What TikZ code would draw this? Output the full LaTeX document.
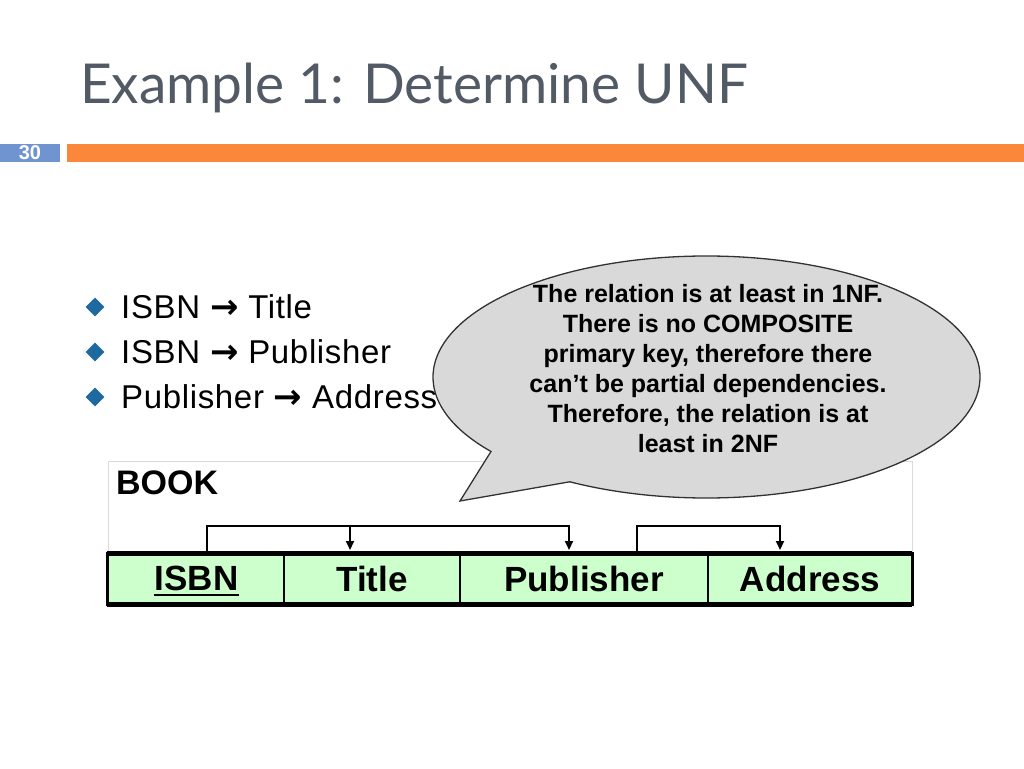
\documentclass[tikz,border=0pt]{standalone}
\usepackage{fontspec}
\setmainfont{Liberation Sans}
\newfontfamily\titlefont{Lato}
\newfontfamily\symfont{DejaVu Sans}
\newfontfamily\bulletfont[LetterSpace=2]{Liberation Sans}
\usetikzlibrary{arrows.meta,calc,shapes.geometric}
\definecolor{titlegray}{RGB}{82,90,102}
\definecolor{barblue}{RGB}{112,148,208}
\definecolor{barorange}{RGB}{250,135,58}
\definecolor{bulletblue}{RGB}{30,105,160}
\definecolor{cellgreen}{RGB}{204,255,204}
\definecolor{calloutgray}{RGB}{217,217,217}
\definecolor{calloutline}{RGB}{50,50,50}
\tikzset{
  bar/.style={inner sep=0pt, outer sep=0pt, anchor=north west, minimum height=18pt},
  bulletmark/.style={diamond, fill=bulletblue, inner sep=0pt, minimum size=19pt},
  bullettext/.style={anchor=base west, inner sep=0pt, font=\bulletfont\fontsize{33}{36}\selectfont},
  cell/.style={draw, line width=2pt, fill=cellgreen, minimum height=51pt, inner sep=0pt,
    outer sep=0pt, anchor=north west, font=\bfseries\fontsize{35}{38}\selectfont},
  dep/.style={line width=2pt, line join=miter},
  deptip/.style={-{Triangle[length=9pt,width=8pt]}},
  callout/.style={fill=calloutgray, draw=calloutline, line width=1.3pt, line join=miter}
}
\newcommand{\fdarrow}{{\symfont\bfseries\fontsize{34}{36}\selectfont →}}
\begin{document}
\begin{tikzpicture}[x=1pt,y=-1pt]
\useasboundingbox (0,0) rectangle (1024,768);
% title
\node[anchor=base west, inner sep=0pt, text=titlegray,
  font=\titlefont\fontsize{55}{60}\selectfont] (title) at (80,103) {Example 1: Determine UNF};
% bars
\node[bar, fill=barblue, minimum width=60pt, text=white,
  font=\bfseries\fontsize{20}{20}\selectfont] (pagenum) at (0,144) {30};
\node[bar, fill=barorange, minimum width=957pt] (rule) at (67,144) {};
% bullets
\node[bulletmark] (m1) at (95,307) {};
\node[bulletmark] (m2) at (95,352) {};
\node[bulletmark] (m3) at (95,397) {};
\node[bullettext] (f1) at (121,318) {ISBN \fdarrow{} Title};
\node[bullettext] (f2) at (121,363) {ISBN \fdarrow{} Publisher};
\node[bullettext] (f3) at (121,408) {Publisher \fdarrow{} Address};
% container
\node[draw=black!15, line width=1pt, minimum width=804pt, minimum height=92pt,
  anchor=north west, inner sep=0pt, outer sep=0pt] (book) at (108,461) {};
\node[anchor=base west, inner sep=0pt, font=\bfseries\fontsize{34}{36}\selectfont] (booklbl) at (116,494) {BOOK};
% table
\node[cell, minimum width=177pt] (c1) at (107,553) {};
\node[cell, minimum width=176pt] (c2) at (284,553) {Title};
\node[cell, minimum width=248pt] (c3) at (460,553) {Publisher};
\node[cell, minimum width=204pt] (c4) at (708,553) {Address};
\node[inner sep=0pt, font=\bfseries\fontsize{35}{38}\selectfont] (isbn) at ($(c1.center)+(1,0)$) {ISBN};
\draw[line width=2pt] ($(isbn.south west)+(0,4)$) -- ($(isbn.south east)+(0,4)$);
\draw[line width=3pt] (c1.north west) rectangle (c4.south east);
\draw[line width=5pt] (c1.north west) -- (c4.north east);
\draw[line width=5pt] (c1.south west) -- (c4.south east);
% dependency arrows
\coordinate (lvl) at (0,526);
\coordinate (isbnup) at ($(c1.north west)+(100,-2)$);
\coordinate (titledn) at ($(c2.north west)+(66,-3)$);
\coordinate (pubdn) at ($(c3.north west)+(109,-3)$);
\coordinate (pubup) at ($(c3.north west)+(177,-2)$);
\coordinate (addrdn) at ($(c4.north west)+(72,-3)$);
\draw[dep, deptip] (isbnup) |- (pubdn |- lvl) -- (pubdn);
\draw[dep, deptip] (titledn |- lvl) -- (titledn);
\draw[dep, deptip] (pubup) |- (addrdn |- lvl) -- (addrdn);
% callout
\coordinate (ce) at (706.5,377);
\coordinate (tip) at (460,501);
\draw[callout] ($(ce)+(142:273.5 and 121)$) arc[start angle=142, end angle=480, x radius=273.5, y radius=121] -- (tip) -- cycle;
\node[align=center, inner sep=0pt, font=\bfseries\fontsize{25}{30}\selectfont] (bubbletext) at (708,369)
  {The relation is at least in 1NF.\\There is no COMPOSITE\\primary key, therefore there\\can’t be partial dependencies.\\Therefore, the relation is at\\least in 2NF};
\end{tikzpicture}
\end{document}
